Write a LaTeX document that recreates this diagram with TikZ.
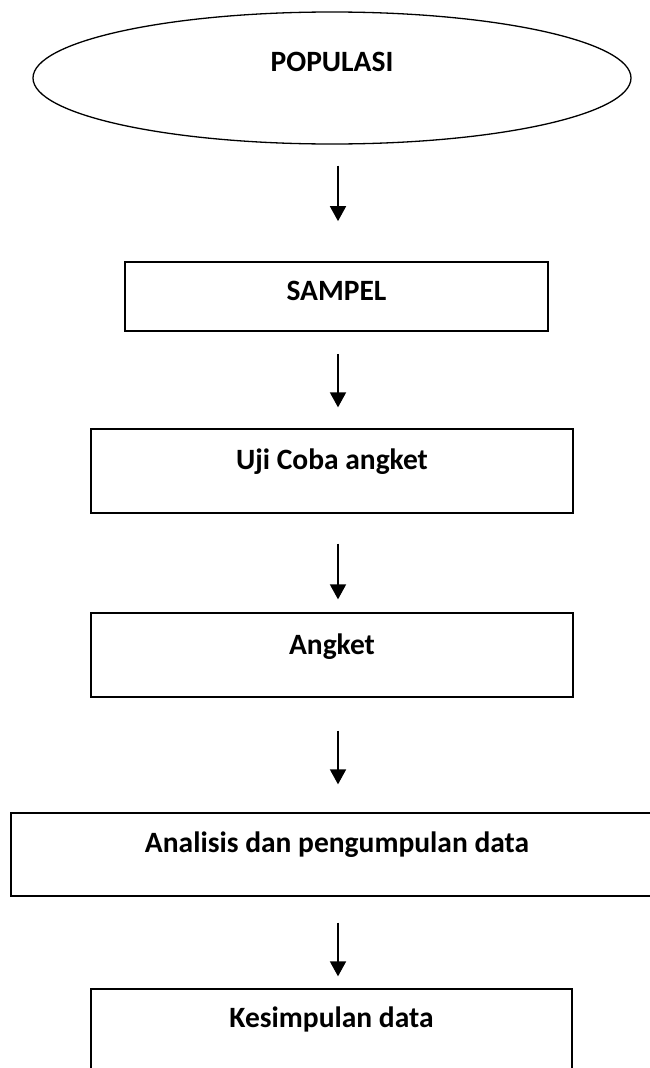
\documentclass[tikz,border=0pt]{standalone}
\usepackage{fontspec}
\setmainfont{Carlito}
\usetikzlibrary{shapes.geometric,arrows.meta}

\begin{document}
\begin{tikzpicture}[x=1pt,y=-1pt,>={Triangle[width=16pt,length=15pt]},
	box/.style={rectangle,draw,line width=1.3pt,inner sep=0pt,text height=18.6pt,minimum width=482pt,minimum height=84pt},
	oval/.style={ellipse,draw,line width=1.3pt,inner sep=0pt,text height=18.6pt},
	flow/.style={->,line width=1.8pt}]
	\tikzstyle{every node}=[font=\fontsize{29.5}{34}\selectfont\bfseries]
	\useasboundingbox (0,0) rectangle (650,1068);
	\clip (0,0) rectangle (650,1068);
	\draw
		(332,78)      node(pop) [oval, minimum width=598pt, minimum height=132pt, text depth=32pt] {POPULASI}
		(336.5,296.5) node(sampel) [box, minimum width=423pt, minimum height=69pt, text depth=10pt, line width=1.7pt] {SAMPEL}
		(332,471)     node(uji) [box, text depth=22pt] {Uji Coba angket}
		(332,655)     node(angket) [box, text depth=20pt] {Angket}
		(337,854.5)   node(analisis) [box, minimum width=652pt, minimum height=83pt, text depth=23pt] {Analisis dan pengumpulan data}
		(331.5,1032)  node(simpul) [box, minimum width=481pt, minimum height=86pt, text depth=28pt] {Kesimpulan data};

	\coordinate (ax) at (338,0);
	\draw [flow, shorten <=21pt, shorten >=40pt] (pop.south -| ax) -- (sampel.north -| ax);
	\draw [flow, shorten <=22pt, shorten >=21pt] (sampel.south -| ax) -- (uji.north -| ax);
	\draw [flow, shorten <=30pt, shorten >=13pt] (uji.south -| ax) -- (angket.north -| ax);
	\draw [flow, shorten <=33pt, shorten >=28pt] (angket.south -| ax) -- (analisis.north -| ax);
	\draw [flow, shorten <=26pt, shorten >=12pt] (analisis.south -| ax) -- (simpul.north -| ax);
\end{tikzpicture}
\end{document}
